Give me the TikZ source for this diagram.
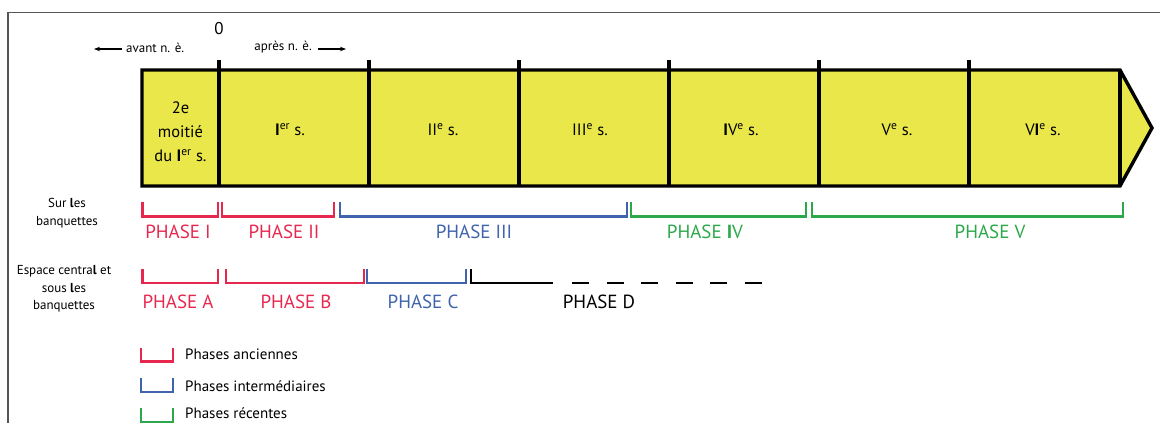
\documentclass[tikz,border=0pt]{standalone}
\usepackage{fontspec}
\setmainfont{PT Sans}
\usetikzlibrary{arrows.meta}
\definecolor{cyell}{HTML}{EAE74A}
\definecolor{cred}{HTML}{E6284F}
\definecolor{cblue}{HTML}{3F63AD}
\definecolor{cgreen}{HTML}{2CA74A}
\definecolor{cframe}{HTML}{555555}
\tikzset{
  cell/.style={font=\fontsize{16.5}{24}\selectfont, align=center, inner sep=0pt},
  brk/.style={line width=2.5pt, line cap=butt, line join=miter},
  phlab/.style={font=\fontsize{19}{22}\selectfont, inner sep=0pt},
  sidelab/.style={font=\fontsize{13}{17.5}\selectfont, align=center, inner sep=0pt},
  leglab/.style={font=\fontsize{15}{18}\selectfont, anchor=west, inner sep=0pt},
  small/.style={font=\fontsize{13}{15}\selectfont, inner sep=0pt},
  divider/.style={line width=3.2pt},
  era/.style={line width=1.6pt, -{Stealth[length=6pt,width=4.5pt]}}
}
\newcommand{\sx}[1]{\textsuperscript{#1}}
\begin{document}
\begin{tikzpicture}[x=1pt,y=-1pt]
\useasboundingbox (0,0) rectangle (1160,423);
% frame
\draw[cframe, line width=1.4pt] (8,423) -- (8,12.5) -- (1160,12.5);
% timeline body
\draw[fill=cyell, line width=3.4pt, line join=miter, miter limit=3]
  (142,70) -- (1120,70) -- (1152,128) -- (1120,186) -- (142,186) -- cycle;
\draw[line width=3.2pt] (1120,70) -- (1120,186);
\draw[line width=4.2pt] (219,60) -- (219,186);
\foreach \x in {369,519,669,819,969} \draw[divider] (\x,60) -- (\x,186);
% top labels
\node[font=\fontsize{17}{20}\selectfont, inner sep=0pt] (zero) at (219,29) {0};
\coordinate (avL) at (94,49);
\coordinate (avR) at (122,49);
\node[small, anchor=west] (avant) at (126,47.5) {avant n. è.};
\draw[era] (avR) -- (avL);
\node[small, anchor=east] (apres) at (312,47.5) {après n. è.};
\coordinate (apL) at (318,49);
\coordinate (apR) at (346,49);
\draw[era] (apL) -- (apR);
% cells
\node[cell] (c0) at (180.5,132) {2e\\moitié\\du \textbf{I}\sx{er} s.};
\node[cell] (c1) at (290,130) {\textbf{I}\sx{er} s.};
\node[cell] (c2) at (443,130) {II\sx{e} s.};
\node[cell] (c3) at (590,130) {III\sx{e} s.};
\node[cell] (c4) at (741,130) {\textbf{I}V\sx{e} s.};
\node[cell] (c5) at (897,130) {V\sx{e} s.};
\node[cell] (c6) at (1043,130) {V\textbf{I}\sx{e} s.};
% side labels
\node[sidelab] (sur) at (67,213) {Sur \textbf{l}es\\banquettes};
\node[sidelab] (esp) at (64,289) {Espace centra\textbf{l} et\\sous \textbf{l}es\\banquettes};
% row 1 brackets
\draw[brk, cred]   (142.5,202) -- (142.5,216.5) -- (218,216.5) -- (218,202);
\draw[brk, cred]   (222,202) -- (222,216.5) -- (334,216.5) -- (334,202);
\draw[brk, cblue]  (340,202) -- (340,216.5) -- (627,216.5) -- (627,202);
\draw[brk, cgreen] (631,202) -- (631,216.5) -- (806,216.5) -- (806,202);
\draw[brk, cgreen] (812,202) -- (812,216.5) -- (1123,216.5) -- (1123,202);
\node[phlab, cred]   (p1) at (178,232) {PHASE I};
\node[phlab, cred]   (p2) at (284,232) {PHASE II};
\node[phlab, cblue]  (p3) at (474,232) {PHASE III};
\node[phlab, cgreen] (p4) at (705,232) {PHASE \textbf{I}V};
\node[phlab, cgreen] (p5) at (990,232) {PHASE V};
% row 2 brackets
\draw[brk, cred]   (142.5,269) -- (142.5,283) -- (218,283) -- (218,269);
\draw[brk, cred]   (226,269) -- (226,283) -- (364,283) -- (364,269);
\draw[brk, cblue]  (367,269) -- (367,283) -- (466,283) -- (466,269);
\draw[brk, black]  (471,269) -- (471,283) -- (553,283);
\draw[brk, black, dash pattern=on 17pt off 17.5pt] (572,283) -- (762,283);
\node[phlab, cred]   (pa) at (178,302) {PHASE A};
\node[phlab, cred]   (pb) at (296,302) {PHASE B};
\node[phlab, cblue]  (pc) at (423,302) {PHASE C};
\node[phlab, black]  (pd) at (599,302) {PHASE D};
% legend
\draw[brk, cred]   (141,348) -- (141,361.5) -- (173,361.5) -- (173,348);
\draw[brk, cblue]  (141,378) -- (141,392) -- (173,392) -- (173,378);
\draw[brk, cgreen] (141,408) -- (141,422) -- (173,422) -- (173,408);
\node[leglab] (l1) at (185,354) {Phases anciennes};
\node[leglab] (l2) at (185,386.5) {Phases intermédiaires};
\node[leglab] (l3) at (185,413.5) {Phases récentes};
\end{tikzpicture}
\end{document}
